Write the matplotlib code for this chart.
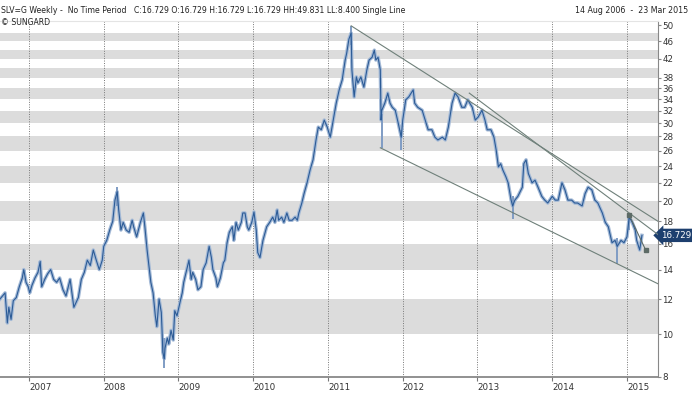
import numpy as np
import matplotlib
matplotlib.use("Agg")
import matplotlib.pyplot as plt

# weekly closes (decimal year, price)
dates = [
    2006.61, 2006.68, 2006.71, 2006.73, 2006.76, 2006.79, 2006.83, 2006.87, 2006.91, 2006.93,
    2006.96, 2006.99, 2007.01, 2007.04, 2007.08, 2007.12, 2007.15, 2007.17, 2007.21, 2007.25,
    2007.29, 2007.33, 2007.37, 2007.41, 2007.455, 2007.495, 2007.55, 2007.60, 2007.66, 2007.70,
    2007.74, 2007.78, 2007.82, 2007.86, 2007.90, 2007.94, 2007.98, 2008.00, 2008.04, 2008.08,
    2008.12, 2008.15, 2008.18, 2008.20, 2008.23, 2008.26, 2008.30, 2008.34, 2008.38, 2008.40,
    2008.44, 2008.49, 2008.53, 2008.55, 2008.58, 2008.61, 2008.63, 2008.66, 2008.69, 2008.71,
    2008.74, 2008.77, 2008.78, 2008.79, 2008.81, 2008.82, 2008.85, 2008.87, 2008.90, 2008.93,
    2008.95, 2008.98, 2009.02, 2009.05, 2009.07, 2009.11, 2009.14, 2009.17, 2009.19, 2009.23,
    2009.26, 2009.30, 2009.33, 2009.37, 2009.41, 2009.44, 2009.46, 2009.50, 2009.52, 2009.56,
    2009.60, 2009.62, 2009.65, 2009.68, 2009.72, 2009.74, 2009.77, 2009.80, 2009.84, 2009.86,
    2009.89, 2009.92, 2009.94, 2009.98, 2010.01, 2010.04, 2010.06, 2010.09, 2010.13, 2010.16,
    2010.18, 2010.22, 2010.26, 2010.29, 2010.32, 2010.34, 2010.38, 2010.41, 2010.45, 2010.48,
    2010.52, 2010.56, 2010.59, 2010.61, 2010.65, 2010.68, 2010.72, 2010.76, 2010.80, 2010.84,
    2010.87, 2010.91, 2010.95, 2010.99, 2011.03, 2011.07, 2011.11, 2011.15, 2011.19, 2011.23,
    2011.25, 2011.28, 2011.31, 2011.32, 2011.35, 2011.38, 2011.40, 2011.44, 2011.48, 2011.52,
    2011.55, 2011.59, 2011.62, 2011.64, 2011.67, 2011.70, 2011.71, 2011.72, 2011.76, 2011.80,
    2011.83, 2011.86, 2011.90, 2011.94, 2011.98, 2012.00, 2012.04, 2012.08, 2012.14, 2012.16,
    2012.20, 2012.26, 2012.30, 2012.34, 2012.39, 2012.43, 2012.47, 2012.53, 2012.57, 2012.61,
    2012.66, 2012.70, 2012.74, 2012.79, 2012.83, 2012.87, 2012.93, 2012.97, 2013.01, 2013.06,
    2013.10, 2013.13, 2013.18, 2013.22, 2013.25, 2013.28, 2013.31, 2013.34, 2013.38, 2013.41,
    2013.45, 2013.47, 2013.50, 2013.54, 2013.60, 2013.62, 2013.65, 2013.68, 2013.73, 2013.77,
    2013.81, 2013.86, 2013.90, 2013.94, 2014.00, 2014.04, 2014.08, 2014.13, 2014.17, 2014.21,
    2014.26, 2014.30, 2014.34, 2014.40, 2014.44, 2014.48, 2014.53, 2014.57, 2014.61, 2014.67,
    2014.71, 2014.75, 2014.80, 2014.84, 2014.87, 2014.92, 2014.96, 2015.00, 2015.03, 2015.07,
    2015.11, 2015.13, 2015.17, 2015.20,
]
closes = [
    12.0, 12.4, 10.6, 11.5, 10.8, 11.9, 12.1, 12.8, 13.4, 14.0,
    13.1, 12.8, 12.4, 12.9, 13.4, 13.8, 14.6, 12.8, 13.3, 13.7,
    14.0, 13.3, 13.1, 13.4, 12.6, 12.2, 13.3, 11.5, 12.1, 13.3,
    13.8, 14.7, 14.3, 15.5, 14.7, 14.0, 14.7, 15.8, 16.3, 17.2,
    18.0, 20.1, 21.0, 19.1, 17.2, 17.9, 17.2, 17.0, 18.1, 17.5,
    16.6, 17.9, 18.8, 17.5, 15.5, 14.0, 13.1, 12.4, 11.0, 10.4,
    12.0, 11.2, 10.2, 9.1, 8.8, 9.3, 9.8, 9.5, 10.2, 9.7,
    11.3, 11.0, 11.8, 12.4, 13.1, 14.0, 14.7, 13.3, 13.8, 13.3,
    12.6, 12.8, 14.0, 14.5, 15.8, 14.9, 14.0, 13.4, 12.8, 13.4,
    14.5, 14.7, 16.1, 17.0, 17.5, 16.3, 17.9, 17.2, 17.9, 18.8,
    18.8, 17.5, 17.2, 17.9, 18.9, 17.2, 15.3, 14.9, 16.3, 17.0,
    17.5, 17.9, 18.4, 17.9, 19.1, 18.1, 18.4, 17.9, 18.8, 18.1,
    18.1, 18.4, 18.1, 18.8, 19.8, 20.8, 22.0, 23.5, 24.8, 27.5,
    29.4, 29.0, 30.5, 29.4, 27.9, 30.5, 33.3, 35.7, 37.6, 41.7,
    43.2, 46.5, 48.0, 39.6, 34.4, 38.2, 37.0, 38.2, 36.2, 39.6,
    41.7, 42.3, 43.9, 41.7, 42.3, 39.6, 30.5, 32.1, 33.3, 35.1,
    33.3, 32.6, 32.1, 30.0, 27.9, 30.5, 33.9, 34.4, 35.7, 33.3,
    32.6, 32.1, 30.5, 29.0, 29.0, 27.9, 27.5, 27.9, 27.5, 29.4,
    33.3, 35.1, 34.4, 32.6, 32.6, 33.9, 32.6, 30.5, 31.0, 32.1,
    30.5, 29.0, 29.0, 27.9, 26.1, 23.9, 24.3, 23.5, 22.7, 22.0,
    20.1, 19.5, 20.1, 20.5, 21.5, 24.3, 24.8, 23.1, 22.0, 22.3,
    21.5, 20.5, 20.1, 19.8, 20.5, 20.1, 20.1, 22.0, 21.2, 20.1,
    20.1, 19.8, 19.8, 19.5, 20.8, 21.5, 21.2, 20.1, 19.8, 18.8,
    17.9, 17.5, 16.1, 16.3, 15.8, 16.3, 16.1, 16.6, 18.4, 17.9,
    17.2, 16.3, 15.5, 16.729,
]

# a few visible intraweek extremes (date, low, high)
wick_dates = [2008.18, 2008.81, 2011.31, 2011.72, 2011.98, 2013.47, 2014.87, 2015.03]
wick_lows = [19.5, 8.40, 45.0, 26.4, 26.1, 18.2, 14.4, 17.2]
wick_highs = [21.5, 9.8, 49.831, 31.5, 29.0, 20.5, 16.5, 18.6]

# trend lines (start date, start price, end date, end price)
trend_lines = [
    (2011.31, 49.83, 2015.415, 18.0),
    (2012.89, 35.1, 2015.415, 16.8),
    (2011.70, 26.4, 2015.415, 13.0),
]
short_line = (2015.03, 18.6, 2015.25, 15.5)

bands = [(10, 12), (14, 16), (18, 20), (22, 24), (26, 28), (30, 32), (34, 36), (38, 40), (42, 44), (46, 48)]
yticks = [8, 10, 12, 14, 16, 18, 20, 22, 24, 26, 28, 30, 32, 34, 36, 38, 42, 46, 50]
years = list(range(2007, 2016))
last_price = 16.729

plt.rcParams['font.family'] = ['DejaVu Sans']

fig = plt.figure(figsize=(6.92, 3.94), dpi=100)
ax = fig.add_axes([0.0, 17 / 394, 658 / 692, 356 / 394])
ax.set_yscale('log')
ax.set_ylim(8, 51.1)
ax.set_xlim(2006.612, 2015.415)

for lo, hi in bands:
    ax.axhspan(lo, hi, color='#dcdcdc', lw=0, zorder=0)
for yr in years:
    ax.axvline(yr, color='#777777', lw=0.7, ls=(0, (1, 1.5)), zorder=1)

# price: light range stroke, dark close line
ax.plot(dates, closes, color='#a3b9d6', lw=2.5, zorder=2)
ax.vlines(wick_dates, wick_lows, wick_highs, color='#7f9cc4', lw=1.4, zorder=2)
ax.plot(dates, closes, color='#2c5b96', lw=0.8, zorder=3)

for x0, y0, x1, y1 in trend_lines:
    ax.plot([x0, x1], [y0, y1], color='#6f807a', lw=0.8, zorder=4)
ax.plot(short_line[0::2], short_line[1::2], color='#5d6b66', lw=0.8, marker='s', ms=2.5, zorder=4)

ax.yaxis.tick_right()
ax.set_yticks(yticks)
ax.set_yticklabels([str(v) for v in yticks])
ax.yaxis.set_minor_locator(matplotlib.ticker.NullLocator())
ax.tick_params(axis='y', which='major', length=2, pad=1, labelsize=6.3, colors='#333333', color='#888888')

ax.set_xticks(years)
ax.set_xticklabels([str(y) for y in years], ha='left')
ax.tick_params(axis='x', length=3, pad=1.5, labelsize=6.3, colors='#333333', color='#777777')

ax.spines['left'].set_visible(False)
ax.spines['top'].set_color('#e4e4e4')
ax.spines['right'].set_color('#888888')
ax.spines['bottom'].set_color('#888888')
ax.spines['bottom'].set_linewidth(1.3)

ax.text(1.004, last_price, '%.3f' % last_price, transform=ax.get_yaxis_transform(),
        color='white', fontsize=6.3, va='center', ha='left',
        bbox=dict(boxstyle='larrow,pad=0.25', fc='#1d3f6e', ec='none'))

fig.text(0.002, 0.985, 'SLV=G Weekly -  No Time Period   C:16.729 O:16.729 H:16.729 L:16.729 HH:49.831 LL:8.400 Single Line',
         fontsize=5.6, color='#222222', va='top', ha='left')
fig.text(0.002, 0.955, '\u00a9 SUNGARD', fontsize=5.6, color='#222222', va='top', ha='left')
fig.text(0.995, 0.985, '14 Aug 2006  -  23 Mar 2015', fontsize=5.7, color='#222222', va='top', ha='right')

fig.savefig('out.png', dpi=100)
